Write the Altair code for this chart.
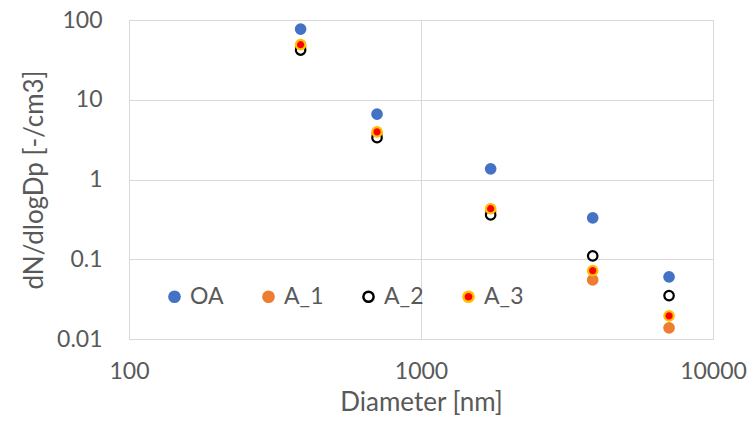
import altair as alt
import pandas as pd

diameters = [387, 707, 1732, 3873, 7071]
series_names = ["OA", "A_1", "A_2", "A_3"]
oa = [77, 6.6, 1.36, 0.33, 0.060]
a_1 = [46, 3.7, 0.40, 0.055, 0.0138]
a_2 = [42, 3.35, 0.36, 0.11, 0.035]
a_3 = [49, 3.95, 0.43, 0.072, 0.0195]

fill_colors = ["#4472C4", "#ED7D31", "#FFFFFF", "#FF0000"]
stroke_colors = ["#4472C4", "#ED7D31", "#000000", "#FFC000"]

rows = []
for name, vals in zip(series_names, [oa, a_1, a_2, a_3]):
    for d, v in zip(diameters, vals):
        rows.append({"Diameter": d, "Value": v, "Series": name})
df = pd.DataFrame(rows)

font = "Lato"
gray = "#595959"

legend = alt.Legend(title=None, orient="none", direction="horizontal",
                    legendX=34, legendY=265, symbolStrokeWidth=2.5, symbolSize=105)

chart = alt.Chart(df).mark_point(filled=True, size=90, strokeWidth=2.2, opacity=1).encode(
    x=alt.X("Diameter:Q",
            scale=alt.Scale(type="log", domain=[100, 10000], nice=False),
            axis=alt.Axis(values=[100, 1000, 10000], format="d", title="Diameter [nm]",
                          grid=True, ticks=False, domain=False, labelPadding=21,
                          labelFlush=False, labelOverlap=False, titlePadding=6)),
    y=alt.Y("Value:Q",
            scale=alt.Scale(type="log", domain=[0.01, 100], nice=False),
            axis=alt.Axis(values=[0.01, 0.1, 1, 10, 100], format="~g",
                          title="dN/dlogDp [-/cm3]", grid=True, ticks=False, domain=False,
                          labelPadding=27, labelFlush=False, labelOverlap=False,
                          titlePadding=9)),
    fill=alt.Fill("Series:N", scale=alt.Scale(domain=series_names, range=fill_colors),
                  legend=legend),
    stroke=alt.Stroke("Series:N", scale=alt.Scale(domain=series_names, range=stroke_colors),
                      legend=legend),
    order=alt.Order("order:Q"),
).transform_calculate(
    order="indexof(['OA','A_1','A_2','A_3'], datum.Series)"
).properties(
    width=584, height=319,
    background="white",
    autosize=alt.AutoSizeParams(type="none"),
    padding={"left": 129, "top": 20, "right": 37, "bottom": 82},
).configure_view(
    stroke="#D9D9D9", strokeWidth=1
).configure_axis(
    gridColor="#D9D9D9", gridWidth=1,
    labelFont=font, labelFontSize=23, labelColor=gray,
    titleFont=font, titleFontSize=26, titleColor=gray, titleFontWeight="normal",
).configure_legend(
    labelFont=font, labelFontSize=23, labelColor=gray,
    columnPadding=33, labelOffset=4, symbolType="circle",
)

chart.save("out.html", embed_options={"renderer": "svg", "actions": False})
